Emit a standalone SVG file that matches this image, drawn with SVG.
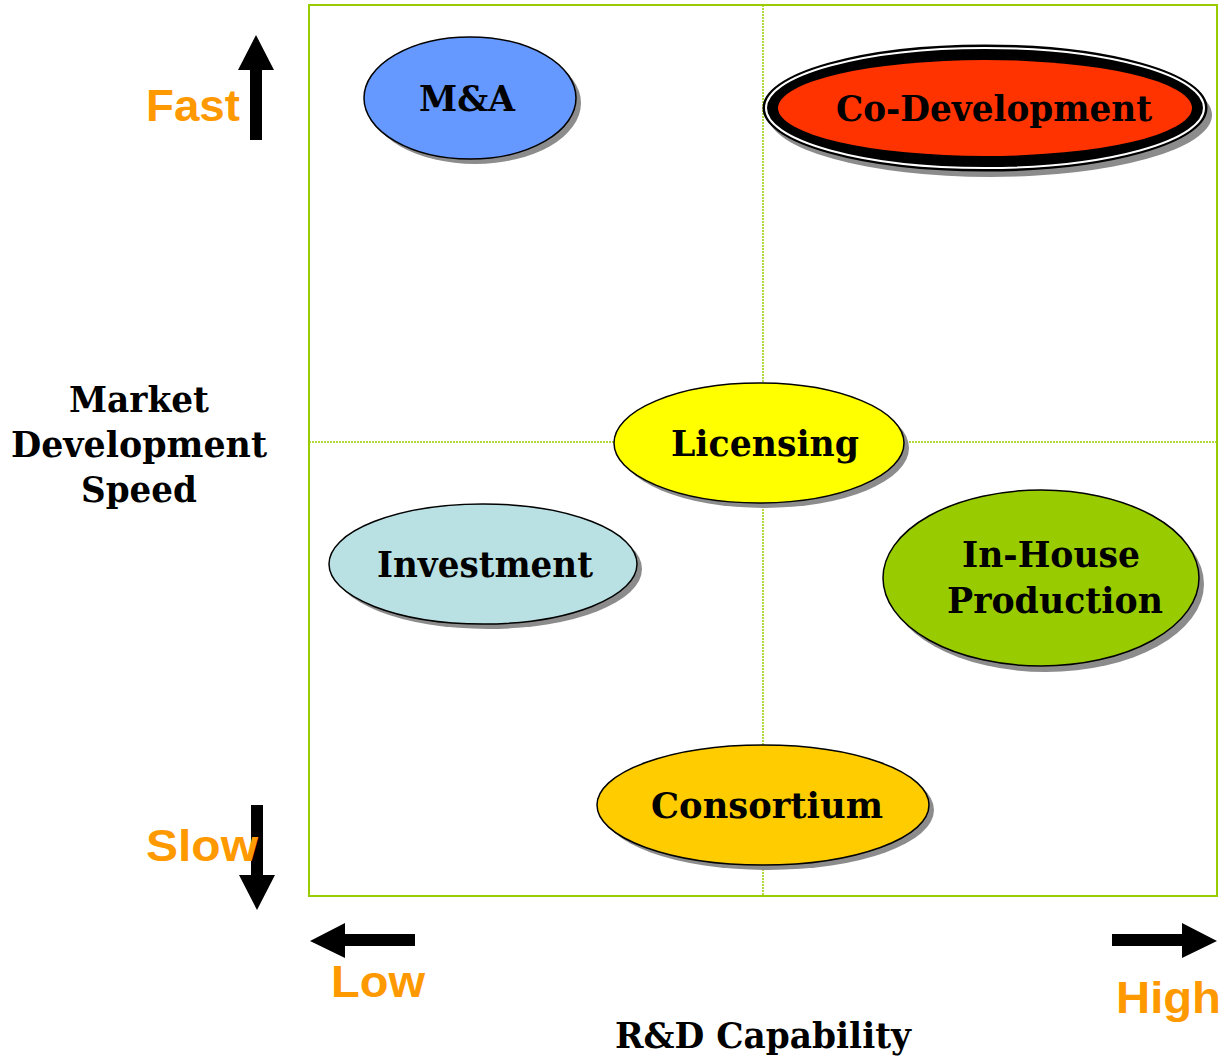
<svg xmlns="http://www.w3.org/2000/svg" width="1222" height="1060" viewBox="0 0 1222 1060">
<style>
.frame{fill:none;stroke:#99cc00;stroke-width:2}
.grid{fill:none;stroke:#99cc00;stroke-width:1.5;stroke-dasharray:2 1}
.shadow{fill:#8c8c8c}
.node{stroke:#000;stroke-width:1.5}
.lbl{font-family:"DejaVu Serif","Liberation Serif",serif;font-weight:bold;font-size:35px;fill:#000;text-anchor:middle}
.axis{font-family:"Liberation Sans",Arial,sans-serif;font-weight:bold;font-size:44px;fill:#ff9900}
.arrow{fill:#000}
</style>
<rect class="frame" x="309" y="5" width="908" height="891"/>
<line class="grid" x1="763" y1="5" x2="763" y2="896"/>
<line class="grid" x1="309" y1="442" x2="1217" y2="442"/>

<g id="connectors">
<polygon class="arrow" points="250,140 262,140 262,70 274,70 256,35 238,70 250,70"/>
<polygon class="arrow" points="251,805 263,805 263,875 275,875 257,910 239,875 251,875"/>
<polygon class="arrow" points="415,934 415,946 345,946 345,958 310,941 345,923 345,934"/>
<polygon class="arrow" points="1112,934 1112,946 1182,946 1182,958 1217,941 1182,923 1182,934"/>
</g>

<g id="axis-labels">
<text class="axis" x="146" y="121" textLength="94" lengthAdjust="spacingAndGlyphs">Fast</text>
<text class="axis" x="146" y="861" textLength="112" lengthAdjust="spacingAndGlyphs">Slow</text>
<text class="axis" x="331" y="997" textLength="94" lengthAdjust="spacingAndGlyphs">Low</text>
<text class="axis" x="1116" y="1013" textLength="105" lengthAdjust="spacingAndGlyphs">High</text>
<text class="lbl" x="139" y="412" textLength="140" lengthAdjust="spacingAndGlyphs">Market</text>
<text class="lbl" x="139" y="457" textLength="256" lengthAdjust="spacingAndGlyphs">Development</text>
<text class="lbl" x="139" y="502" textLength="116" lengthAdjust="spacingAndGlyphs">Speed</text>
<text class="lbl" x="763" y="1048" textLength="296" lengthAdjust="spacingAndGlyphs">R&amp;D Capability</text>
</g>

<g id="node-ma">
<ellipse class="shadow" cx="475" cy="103" rx="106" ry="61"/>
<ellipse class="node" cx="470" cy="98" rx="106" ry="61" fill="#6699ff"/>
<text class="lbl" x="467" y="111" textLength="96" lengthAdjust="spacingAndGlyphs">M&amp;A</text>
</g>

<g id="node-codev">
<ellipse class="shadow" cx="990" cy="115" rx="222" ry="62"/>
<ellipse cx="985" cy="108" rx="221" ry="62" fill="#000" stroke="#000" stroke-width="3"/>
<ellipse cx="985" cy="108" rx="219" ry="60" fill="none" stroke="#fff" stroke-width="2"/>
<ellipse cx="985" cy="108" rx="216" ry="57" fill="#000"/>
<ellipse cx="985" cy="108" rx="207" ry="48" fill="#ff3300"/>
<text class="lbl" x="994" y="121" textLength="316" lengthAdjust="spacingAndGlyphs">Co-Development</text>
</g>

<g id="node-licensing">
<ellipse class="shadow" cx="764" cy="448" rx="145" ry="60"/>
<ellipse class="node" cx="759" cy="443" rx="145" ry="60" fill="#ffff00"/>
<text class="lbl" x="765" y="456" textLength="188" lengthAdjust="spacingAndGlyphs">Licensing</text>
</g>

<g id="node-investment">
<ellipse class="shadow" cx="488" cy="569" rx="154" ry="60"/>
<ellipse class="node" cx="483" cy="564" rx="154" ry="60" fill="#b9e0e3"/>
<text class="lbl" x="485" y="577" textLength="216" lengthAdjust="spacingAndGlyphs">Investment</text>
</g>

<g id="node-inhouse">
<ellipse class="shadow" cx="1046" cy="584" rx="158" ry="88"/>
<ellipse class="node" cx="1041" cy="578" rx="158" ry="88" fill="#99cc00"/>
<text class="lbl" x="1051" y="567" textLength="178" lengthAdjust="spacingAndGlyphs">In-House</text>
<text class="lbl" x="1055" y="613" textLength="216" lengthAdjust="spacingAndGlyphs">Production</text>
</g>

<g id="node-consortium">
<ellipse class="shadow" cx="768" cy="810" rx="166" ry="60"/>
<ellipse class="node" cx="763" cy="805" rx="166" ry="60" fill="#ffcc00"/>
<text class="lbl" x="767" y="818" textLength="232" lengthAdjust="spacingAndGlyphs">Consortium</text>
</g>
</svg>
